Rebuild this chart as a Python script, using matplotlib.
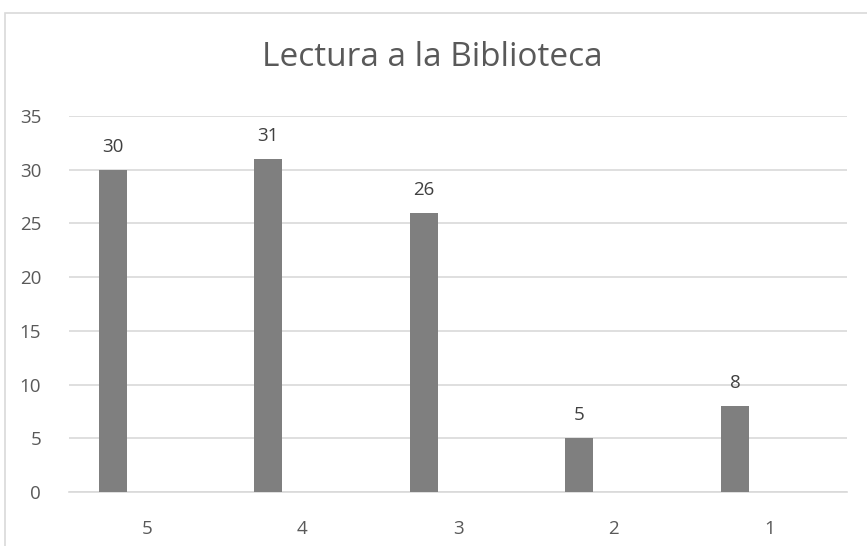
import matplotlib.pyplot as plt
from matplotlib.patches import Rectangle
import numpy as np

categories = ["5", "4", "3", "2", "1"]
values = [30, 31, 26, 5, 8]
y_ticks = [0, 5, 10, 15, 20, 25, 30, 35]

plt.rcParams["font.family"] = ["Open Sans", "DejaVu Sans"]
text_color = "#595959"
grid_color = "#d9d9d9"

fig = plt.figure(figsize=(8.67, 5.46), dpi=100)
ax = fig.add_axes([0.0796, 0.0989, 0.8974, 0.6886])

x = np.arange(len(categories))
bars = ax.bar(x - 0.22, values, width=0.18, color="#7f7f7f", zorder=3)
ax.bar_label(bars, labels=[str(v) for v in values], padding=10,
             fontsize=13.5, color="#404040")

ax.set_xlim(-0.5, len(categories) - 0.5)
ax.set_ylim(0, 35)
ax.set_yticks(y_ticks)
ax.set_xticks(x)
ax.set_xticklabels(categories)
ax.tick_params(axis="both", length=0, labelsize=13.5, labelcolor=text_color)
ax.tick_params(axis="y", pad=20)
ax.tick_params(axis="x", pad=20)
ax.grid(axis="y", color=grid_color, linewidth=1.2, zorder=0)
for side in ["left", "right", "top"]:
    ax.spines[side].set_visible(False)
ax.spines["bottom"].set_color(grid_color)
ax.spines["bottom"].set_linewidth(1.2)

fig.text(0.499, 1 - 58 / 546, "Lectura a la Biblioteca", ha="center", va="center",
         fontsize=24, color=text_color)

# chart border (cropped on right/bottom like the reference)
fig.patches.append(Rectangle((4.5 / 867, -0.05), 1.1, 1 - 13 / 546 + 0.05,
                             transform=fig.transFigure, fill=False,
                             edgecolor=grid_color, linewidth=1.2))

fig.savefig("out.png", dpi=100)
